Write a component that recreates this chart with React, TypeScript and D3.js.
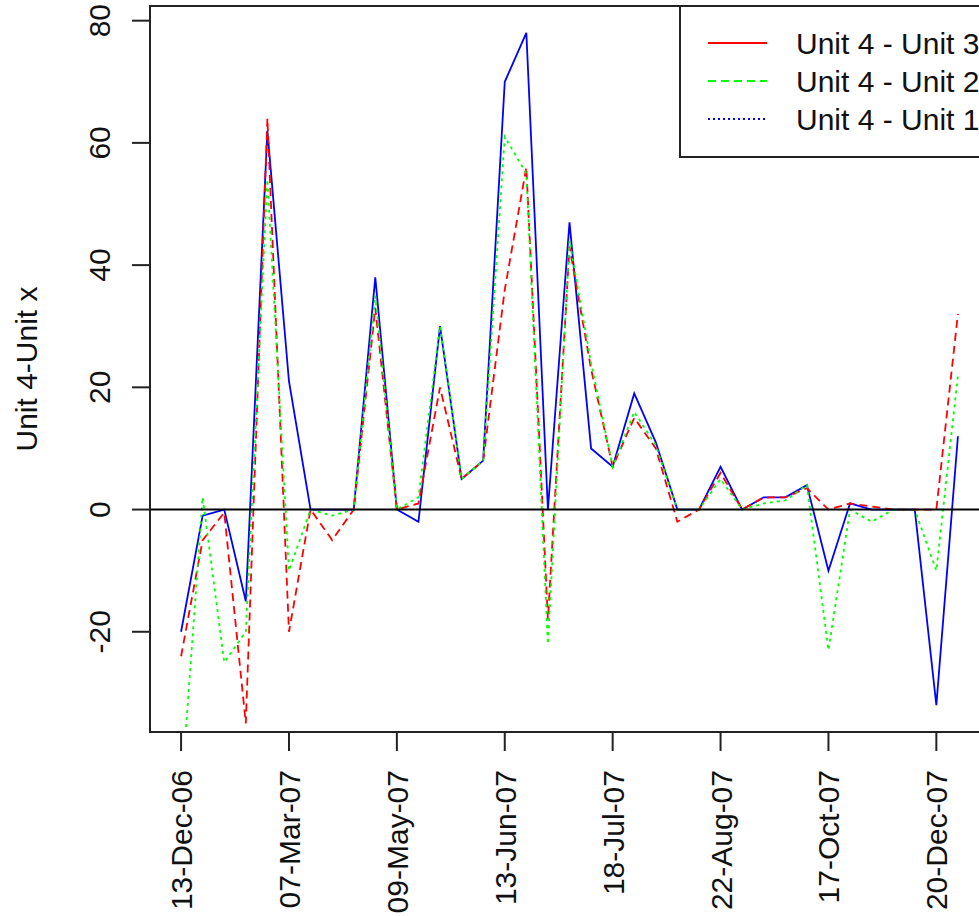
import React from "react";
import * as d3 from "d3";

const unit1 = [-20, -1, 0, -15, 62, 21, 0, 0, 0, 38, 0, -2, 30, 5, 8, 70, 78, 0, 47, 10, 7, 19, 11, 0, 0, 7, 0, 2, 2, 4, -10, 1, 0, 0, 0, -32, 12];
const unit3 = [-24, -5, -0.5, -35, 64, -20, 0, -5, 0, 33, 0, 1, 20, 5, 8, 36, 56, -18, 43, 23, 7, 15, 10, -2, 0, 6, 0, 2, 2, 3.5, 0, 1, 0.5, 0, 0, 0, 32];
const unit2 = [-47, 2, -25, -20, 54, -10, 0, -1, 0, 35, 0, 2, 30, 5, 8, 61, 55, -22, 44, 24, 7, 16, 10.5, 0, 0, 5, 0, 1, 1.5, 4, -23, 0, -2, 0, 0, -10, 22];

const tickLabels = ["13-Dec-06", "07-Mar-07", "09-May-07", "13-Jun-07", "18-Jul-07", "22-Aug-07", "17-Oct-07", "20-Dec-07"];
const tickEvery = 5;
const yTicks = [-20, 0, 20, 40, 60, 80];

const legendNames = ["Unit 4 - Unit 3", "Unit 4 - Unit 2", "Unit 4 - Unit 1"];

const W = 979;
const H = 916;
const left = 150;
const right = 989;
const top = 6;
const bottom = 732;
const font = "'Liberation Sans', Arial, sans-serif";

export default function App() {
  const n = unit1.length;
  const pad = 0.04 * (n - 1);
  const x = d3.scaleLinear().domain([-pad, n - 1 + pad]).range([left, right]);

  const [lo, hi] = d3.extent(unit1) as [number, number];
  const r = hi - lo;
  const y = d3.scaleLinear().domain([lo - 0.04 * r, hi + 0.04 * r]).range([bottom, top]);

  const line = d3
    .line<number>()
    .x((d, i) => x(i))
    .y((d) => y(d));

  // draw order as in the picture: solid blue, dashed red, dotted green
  const series = [
    { values: unit1, color: "#0000ff", dash: null },
    { values: unit3, color: "#ff0000", dash: "8,5" },
    { values: unit2, color: "#00ff00", dash: "3,4" },
  ];

  const legend = [
    { name: legendNames[0], color: "#ff0000", dash: null },
    { name: legendNames[1], color: "#00ff00", dash: "8,5" },
    { name: legendNames[2], color: "#0000ff", dash: "2,3" },
  ];

  return (
    <svg
      width={W}
      height={H}
      style={{ position: "absolute", left: 0, top: 0, background: "#fff" }}
      fontFamily={font}
    >
      <defs>
        <clipPath id="plot">
          <rect x={left} y={top} width={right - left} height={bottom - top} />
        </clipPath>
      </defs>
      <rect width={W} height={H} fill="#fff" />

      <g clipPath="url(#plot)">
        {series.map((s, k) => (
          <path
            key={k}
            d={line(s.values) || ""}
            fill="none"
            stroke={s.color}
            strokeWidth={1.8}
            strokeDasharray={s.dash || undefined}
          />
        ))}
        <line x1={left} x2={right} y1={y(0)} y2={y(0)} stroke="#000" strokeWidth={2} />
      </g>

      {/* frame */}
      <rect x={left} y={top} width={right - left} height={bottom - top} fill="none" stroke="#222" strokeWidth={2} />

      {/* y axis */}
      {yTicks.map((t) => (
        <g key={t}>
          <line x1={left - 18} x2={left} y1={y(t)} y2={y(t)} stroke="#222" strokeWidth={2} />
          <text
            transform={`translate(110,${y(t)}) rotate(-90)`}
            textAnchor="middle"
            fontSize={30}
            fill="#111"
          >
            {t}
          </text>
        </g>
      ))}
      <text
        transform={`translate(37,${(top + bottom) / 2}) rotate(-90)`}
        textAnchor="middle"
        fontSize={30}
        fill="#111"
      >
        Unit 4-Unit x
      </text>

      {/* x axis */}
      {tickLabels.map((lab, k) => {
        const xi = x(k * tickEvery);
        return (
          <g key={lab}>
            <line x1={xi} x2={xi} y1={bottom} y2={bottom + 19} stroke="#222" strokeWidth={2} />
            <text
              transform={`translate(${xi + 11},770) rotate(-90)`}
              textAnchor="end"
              fontSize={30}
              fill="#111"
            >
              {lab}
            </text>
          </g>
        );
      })}

      {/* legend */}
      <rect x={680} y={top} width={400} height={151} fill="#fff" stroke="#222" strokeWidth={2} />
      {legend.map((l, k) => {
        const ly = 43 + k * 38;
        return (
          <g key={l.name}>
            <line
              x1={708}
              x2={767}
              y1={ly}
              y2={ly}
              stroke={l.color}
              strokeWidth={1.8}
              strokeDasharray={l.dash || undefined}
            />
            <text x={796} y={ly} dominantBaseline="central" fontSize={30} fill="#111">
              {l.name}
            </text>
          </g>
        );
      })}
    </svg>
  );
}
